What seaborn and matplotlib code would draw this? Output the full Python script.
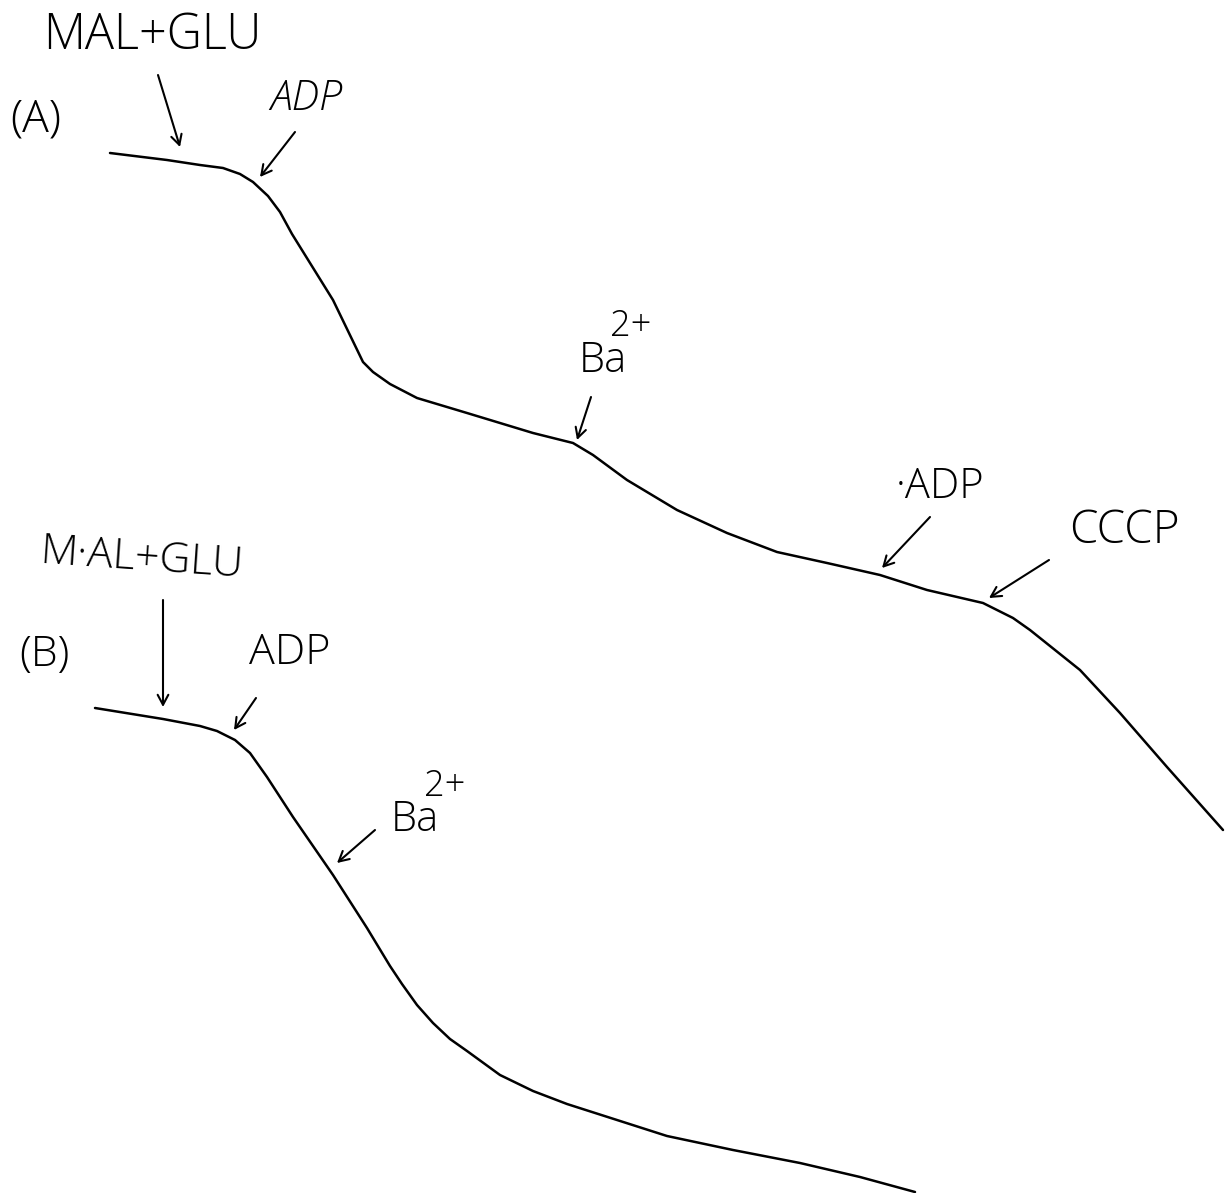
import matplotlib
matplotlib.use("Agg")
import matplotlib.pyplot as plt
import seaborn as sns
import pandas as pd

# ---- data (pixel-space coordinates of the recorder traces) ----
trace_a_x = [110, 167, 200, 223, 240, 253, 268, 280, 292, 333, 363, 373, 390, 417, 467,
             533, 573, 593, 627, 677, 727, 777, 827, 880, 927, 983, 1013, 1030, 1080,
             1120, 1167, 1223]
trace_a_y = [153, 160, 165, 168, 174, 182, 196, 212, 234, 300, 362, 372, 384, 398, 413,
             433, 443, 455, 480, 510, 533, 552, 563, 575, 590, 603, 618, 630, 670,
             713, 767, 830]

trace_b_x = [95, 163, 200, 217, 235, 250, 267, 293, 333, 367, 390, 402, 417, 433, 450,
             467, 500, 533, 567, 617, 667, 733, 800, 860, 915]
trace_b_y = [708, 719, 726, 731, 740, 753, 777, 817, 875, 928, 966, 984, 1005, 1023, 1039,
             1051, 1075, 1091, 1104, 1120, 1136, 1150, 1163, 1177, 1192]

# annotation arrows: (tail, tip)
arrow_tails = [(158, 75), (295, 132), (591, 397), (930, 517), (1049, 560),
               (163, 600), (256, 698), (375, 830)]
arrow_tips = [(180, 147), (260, 177), (577, 440), (882, 568), (989, 598),
              (163, 707), (234, 730), (337, 863)]

labels = ["MAL+GLU", "(A)", "ADP", "Ba", "2+", "·ADP", "CCCP",
          "M·AL+GLU", "(B)", "ADP", "Ba", "2+"]
label_pos = [(152, 36), (36, 120), (306, 99), (603, 361), (631, 326), (940, 487),
             (1124, 531), (142, 559), (44, 655), (290, 653), (415, 820), (445, 786)]
label_size = [35, 32, 30, 30, 26, 30, 33, 31, 31, 31, 30, 26]
label_style = ["normal", "normal", "italic", "normal", "normal", "normal", "normal",
               "normal", "normal", "normal", "normal", "normal"]
label_rot = [0, 0, 0, 0, 0, 0, 0, -4, 0, 0, 0, 0]

sns.set_theme(style="white")
plt.rcParams["font.family"] = ["Open Sans", "Liberation Sans", "DejaVu Sans"]

fig = plt.figure(figsize=(12.29, 11.93), dpi=100)
ax = fig.add_axes([0, 0, 1, 1])

df_a = pd.DataFrame({"x": trace_a_x, "y": trace_a_y})
df_b = pd.DataFrame({"x": trace_b_x, "y": trace_b_y})
sns.lineplot(data=df_a, x="x", y="y", sort=False, estimator=None, color="black",
             lw=1.8, ax=ax)
sns.lineplot(data=df_b, x="x", y="y", sort=False, estimator=None, color="black",
             lw=1.8, ax=ax)
ax.set_xlim(0, 1229)
ax.set_ylim(1193, 0)
ax.axis("off")

for tail, tip in zip(arrow_tails, arrow_tips):
    ax.annotate("", xy=tip, xytext=tail,
                arrowprops=dict(arrowstyle="->,head_length=0.6,head_width=0.32",
                                lw=1.5, color="black", shrinkA=0, shrinkB=0))

for txt, (x, y), fs, st, rot in zip(labels, label_pos, label_size, label_style, label_rot):
    ax.text(x, y, txt, fontsize=fs, fontstyle=st, fontweight="light", rotation=rot,
            ha="center", va="center", color="black")

fig.savefig("out.png", dpi=100, facecolor="white")
